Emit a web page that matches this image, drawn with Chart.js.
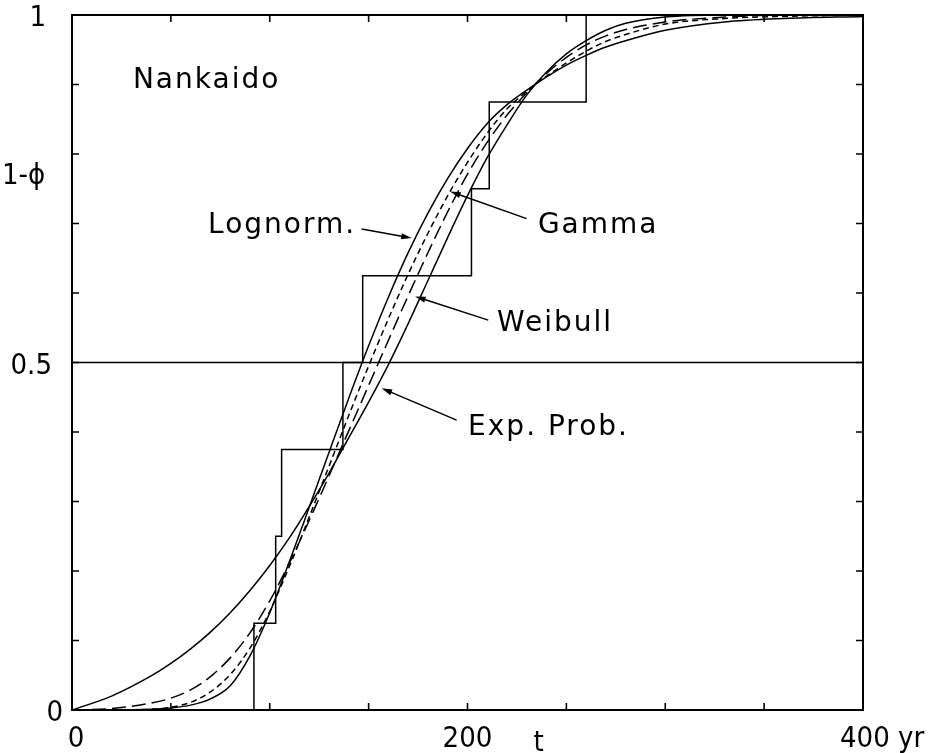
<!DOCTYPE html>
<html>
<head>
<meta charset="utf-8">
<script src="https://cdn.jsdelivr.net/npm/chart.js@4/dist/chart.umd.min.js"></script>
<style>
	html, body { margin: 0; padding: 0; background: #fff; }
	canvas { display: block; }
</style>
</head>
<body>
<canvas id="cdfChart" width="934" height="753"></canvas>
<script>
// Recurrence interval t (yr) where the fitted curves were read
const tYears   = [0, 20, 40, 50, 60, 70, 80, 90, 100, 110, 120, 130, 140, 150, 160, 170, 180, 190, 200, 210, 220, 230, 240, 250, 260, 270, 280, 300, 330, 360, 400];
// 1 - phi for every fitted distribution
const lognormP = [0, 0, 0.001, 0.003, 0.007, 0.016, 0.035, 0.078, 0.14, 0.214, 0.292, 0.371, 0.449, 0.524, 0.594, 0.658, 0.715, 0.765, 0.808, 0.844, 0.871, 0.892, 0.911, 0.928, 0.942, 0.954, 0.963, 0.978, 0.99, 0.995, 0.998];
const gammaP   = [0, 0, 0.001, 0.004, 0.011, 0.026, 0.051, 0.089, 0.142, 0.207, 0.278, 0.351, 0.424, 0.495, 0.563, 0.627, 0.686, 0.74, 0.788, 0.83, 0.865, 0.89, 0.912, 0.931, 0.948, 0.962, 0.972, 0.987, 0.995, 0.998, 1];
const weibullP = [0, 0.002, 0.01, 0.017, 0.029, 0.048, 0.075, 0.111, 0.157, 0.212, 0.273, 0.337, 0.402, 0.467, 0.532, 0.596, 0.658, 0.717, 0.771, 0.817, 0.856, 0.888, 0.916, 0.939, 0.957, 0.97, 0.979, 0.99, 0.997, 1, 1];
const expProbP = [0, 0.02, 0.049, 0.067, 0.088, 0.112, 0.14, 0.172, 0.208, 0.248, 0.293, 0.341, 0.392, 0.443, 0.497, 0.556, 0.618, 0.68, 0.74, 0.795, 0.842, 0.885, 0.918, 0.944, 0.963, 0.978, 0.988, 0.997, 1, 1, 1];

// Observed Nankaido intervals (empirical step function)
const stepT = [92, 103, 106, 137, 147, 202, 211, 260];
const stepP = [0.125, 0.25, 0.375, 0.5, 0.625, 0.75, 0.875, 1];

// Axis ticks and labels
const xTicks = [0, 50, 100, 150, 200, 250, 300, 350, 400];
const yTicks = [0, 0.1, 0.2, 0.3, 0.4, 0.5, 0.6, 0.7, 0.8, 0.9, 1];
const xLabels = ['0', '200', '400 yr'];
const xLabelValues = [0, 200, 400];
const yLabels = ['0', '0.5', '1'];
const yLabelValues = [0, 0.5, 1];

const FONT = '"DejaVu Sans", "Liberation Sans", sans-serif';

function toPoints(xs, ys) {
	return xs.map((x, i) => ({ x: x, y: ys[i] }));
}

// step points: start at origin, each step rises at its interval
function stepPoints() {
	const pts = [{ x: 0, y: 0 }];
	stepT.forEach((t, i) => pts.push({ x: t, y: stepP[i] }));
	pts.push({ x: 400, y: 1 });
	return pts;
}

// annotations: text at (t, p) and arrows tail -> head, in data units
const notes = [
	{ text: 'Nankaido', t: 30.8, p: 0.895 },
	{ text: 'Lognorm.', t: 68.8, p: 0.686 },
	{ text: 'Gamma', t: 235.6, p: 0.686 },
	{ text: 'Weibull', t: 214.9, p: 0.545 },
	{ text: 'Exp. Prob.', t: 200.3, p: 0.396 }
];
const arrows = [
	{ from: [146.5, 0.692], to: [171.8, 0.679] },
	{ from: [229.9, 0.707], to: [191.2, 0.746] },
	{ from: [210.5, 0.561], to: [173.5, 0.595] },
	{ from: [194.5, 0.417], to: [156.6, 0.463] }
];

function drawArrow(ctx, x1, y1, x2, y2) {
	const ang = Math.atan2(y2 - y1, x2 - x1);
	const len = 11;
	ctx.beginPath();
	ctx.moveTo(x1, y1);
	ctx.lineTo(x2 - Math.cos(ang) * 6, y2 - Math.sin(ang) * 6);
	ctx.stroke();
	ctx.beginPath();
	ctx.moveTo(x2, y2);
	ctx.lineTo(x2 - len * Math.cos(ang - 0.28), y2 - len * Math.sin(ang - 0.28));
	ctx.lineTo(x2 - len * Math.cos(ang + 0.28), y2 - len * Math.sin(ang + 0.28));
	ctx.closePath();
	ctx.fill();
}

// frame, inward ticks, labels and arrows
const framePlugin = {
	id: 'framePlugin',
	afterDraw(chart) {
		const ctx = chart.ctx;
		const a = chart.chartArea;
		const x = chart.scales.x;
		const y = chart.scales.y;
		ctx.save();
		ctx.strokeStyle = '#000';
		ctx.fillStyle = '#000';
		ctx.lineWidth = 2;
		ctx.strokeRect(a.left, a.top, a.right - a.left, a.bottom - a.top);

		ctx.lineWidth = 1.6;
		ctx.beginPath();
		xTicks.forEach(v => {
			const px = x.getPixelForValue(v);
			ctx.moveTo(px, a.bottom); ctx.lineTo(px, a.bottom - 7);
			ctx.moveTo(px, a.top); ctx.lineTo(px, a.top + 7);
		});
		yTicks.forEach(v => {
			const py = y.getPixelForValue(v);
			ctx.moveTo(a.left, py); ctx.lineTo(a.left + 7, py);
			ctx.moveTo(a.right, py); ctx.lineTo(a.right - 7, py);
		});
		ctx.stroke();

		// tick labels
		ctx.font = '29px ' + FONT;
		ctx.fontStretch = 'condensed';
		ctx.textBaseline = 'alphabetic';
		ctx.textAlign = 'right';
		const yOffsets = [9, 20, 26];
		yLabelValues.forEach((v, i) => {
			ctx.fillText(yLabels[i], a.left - yOffsets[i], y.getPixelForValue(v) + 11);
		});
		ctx.textAlign = 'center';
		ctx.fillText(xLabels[0], x.getPixelForValue(xLabelValues[0]) + 4, a.bottom + 37);
		ctx.fillText(xLabels[1], x.getPixelForValue(xLabelValues[1]), a.bottom + 37);
		ctx.textAlign = 'left';
		ctx.fillText(xLabels[2], x.getPixelForValue(xLabelValues[2]) - 23, a.bottom + 37);
		ctx.textAlign = 'center';
		ctx.fillText('t', x.getPixelForValue(236), a.bottom + 41);

		// y axis title
		ctx.textAlign = 'left';
		ctx.fillText('1-\u03d5', a.left - 70, y.getPixelForValue(0.757));
		ctx.fontStretch = 'normal';

		// curve names
		ctx.font = '28px ' + FONT;
		ctx.letterSpacing = '2px';
		notes.forEach(n => {
			ctx.fillText(n.text, x.getPixelForValue(n.t), y.getPixelForValue(n.p));
		});
		ctx.letterSpacing = '0px';

		ctx.lineWidth = 1.5;
		arrows.forEach(ar => {
			drawArrow(ctx, x.getPixelForValue(ar.from[0]), y.getPixelForValue(ar.from[1]),
				x.getPixelForValue(ar.to[0]), y.getPixelForValue(ar.to[1]));
		});
		ctx.restore();
	}
};

function curve(label, ys, dash) {
	return {
		label: label,
		data: toPoints(tYears, ys),
		borderColor: '#000',
		borderWidth: 1.5,
		borderDash: dash,
		pointRadius: 0,
		cubicInterpolationMode: 'monotone',
		fill: false
	};
}

new Chart(document.getElementById('cdfChart'), {
	type: 'line',
	data: {
		datasets: [
			curve('Lognorm.', lognormP, []),
			curve('Gamma', gammaP, [6, 4]),
			curve('Weibull', weibullP, [14, 6]),
			curve('Exp. Prob.', expProbP, []),
			{
				label: 'Observed',
				data: stepPoints(),
				stepped: 'before',
				borderColor: '#000',
				borderWidth: 1.5,
				pointRadius: 0,
				fill: false
			},
			{
				label: 'half',
				data: toPoints([0, 400], [0.5, 0.5]),
				borderColor: '#000',
				borderWidth: 1.5,
				pointRadius: 0,
				fill: false
			}
		]
	},
	options: {
		responsive: false,
		animation: false,
		layout: { padding: { left: 72, right: 71, top: 15, bottom: 43 } },
		plugins: { legend: { display: false }, tooltip: { enabled: false } },
		scales: {
			x: { type: 'linear', min: 0, max: 400, display: false },
			y: { type: 'linear', min: 0, max: 1, display: false }
		}
	},
	plugins: [framePlugin]
});
</script>
</body>
</html>
